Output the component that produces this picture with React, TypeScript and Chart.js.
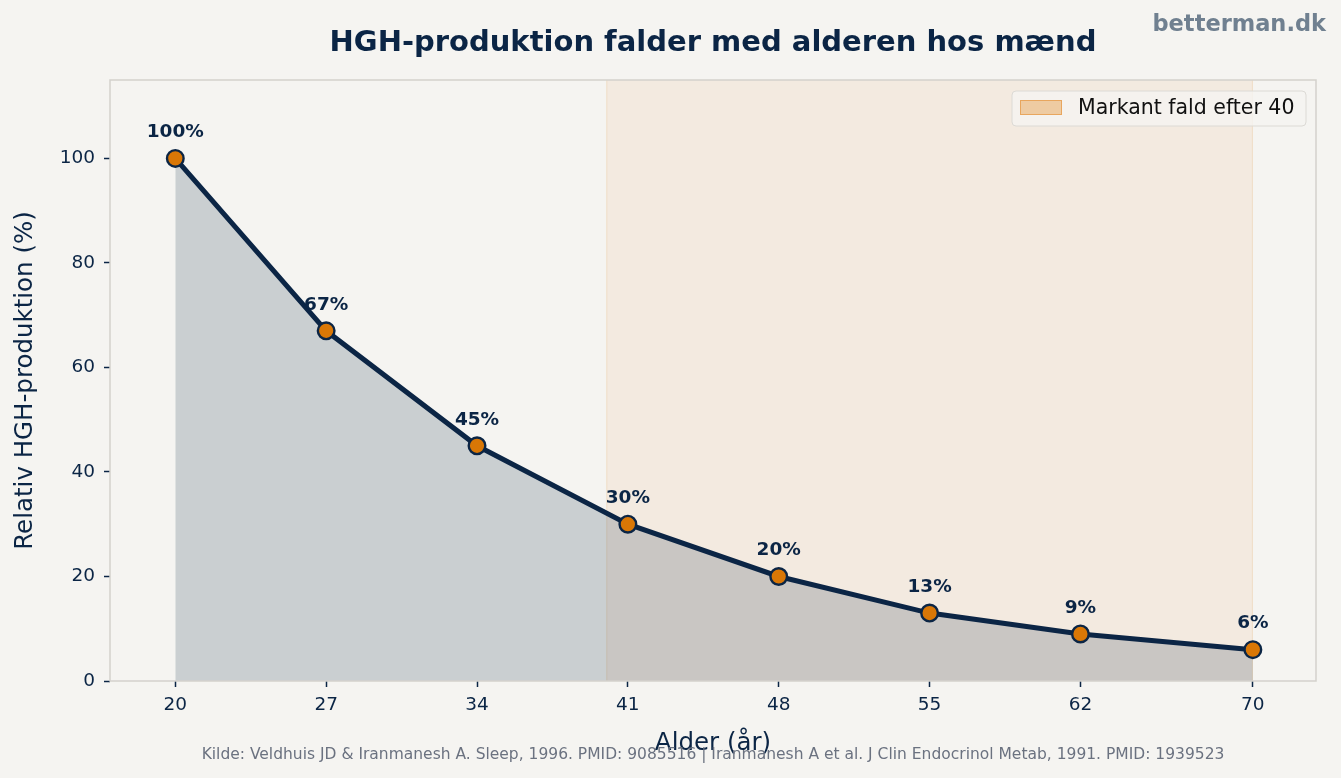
import React, { useEffect, useRef } from "react";
import { Chart, registerables } from "chart.js";

Chart.register(...registerables);

// Age (years) and relative HGH production (%)
const ages: number[] = [20, 27, 34, 41, 48, 55, 62, 70];
const hghPercent: number[] = [100, 67, 45, 30, 20, 13, 9, 6];
const xTicks: number[] = [20, 27, 34, 41, 48, 55, 62, 70];
const yTicks: number[] = [0, 20, 40, 60, 80, 100];
const declineSpan: [number, number] = [40, 70];

const NAVY = "#0b2545";
const ORANGE = "#d97706";
const BG = "#f5f4f1";
const FONT = "'DejaVu Sans', sans-serif";

const TITLE = "HGH-produktion falder med alderen hos mænd";
const BRAND = "betterman.dk";
const X_TITLE = "Alder (år)";
const Y_TITLE = "Relativ HGH-produktion (%)";
const SOURCE =
  "Kilde: Veldhuis JD & Iranmanesh A. Sleep, 1996. PMID: 9085516 | Iranmanesh A et al. J Clin Endocrinol Metab, 1991. PMID: 1939523";
const LEGEND_LABEL = "Markant fald efter 40";

const decorPlugin = {
  id: "decor",
  beforeDraw(chart: any) {
    const { ctx, width, height } = chart;
    ctx.save();
    ctx.fillStyle = BG;
    ctx.fillRect(0, 0, width, height);
    ctx.restore();
  },
  beforeDatasetsDraw(chart: any) {
    const { ctx, chartArea, scales } = chart;
    const x0 = scales.x.getPixelForValue(declineSpan[0]);
    const x1 = scales.x.getPixelForValue(declineSpan[1]);
    ctx.save();
    ctx.fillStyle = "rgba(224,123,10,0.075)";
    ctx.fillRect(x0, chartArea.top, x1 - x0, chartArea.bottom - chartArea.top);
    ctx.strokeStyle = "rgba(224,123,10,0.12)";
    ctx.lineWidth = 1;
    ctx.beginPath();
    ctx.moveTo(x0 + 0.5, chartArea.top);
    ctx.lineTo(x0 + 0.5, chartArea.bottom);
    ctx.moveTo(x1 - 0.5, chartArea.top);
    ctx.lineTo(x1 - 0.5, chartArea.bottom);
    ctx.stroke();
    ctx.restore();
  },
  afterDatasetsDraw(chart: any) {
    const { ctx, chartArea } = chart;
    const meta = chart.getDatasetMeta(0);
    ctx.save();
    // frame
    ctx.strokeStyle = "#d3d1cc";
    ctx.lineWidth = 1.5;
    ctx.strokeRect(
      chartArea.left,
      chartArea.top,
      chartArea.right - chartArea.left,
      chartArea.bottom - chartArea.top
    );
    // value labels
    ctx.fillStyle = NAVY;
    ctx.font = `bold 18.5px ${FONT}`;
    ctx.textAlign = "center";
    ctx.textBaseline = "middle";
    meta.data.forEach((pt: any, i: number) => {
      ctx.fillText(`${hghPercent[i]}%`, pt.x, pt.y - 26);
    });

    // legend
    const lx = 1012, ly = 91, lw = 294, lh = 35;
    ctx.beginPath();
    ctx.roundRect(lx, ly, lw, lh, 4);
    ctx.fillStyle = "rgba(245,244,241,0.8)";
    ctx.fill();
    ctx.strokeStyle = "#dcdad5";
    ctx.lineWidth = 1;
    ctx.stroke();
    ctx.fillStyle = "rgba(224,123,10,0.33)";
    ctx.fillRect(lx + 8, ly + 9, 42, 15);
    ctx.strokeStyle = "rgba(224,123,10,0.45)";
    ctx.lineWidth = 1;
    ctx.strokeRect(lx + 8.5, ly + 9.5, 41, 14);
    ctx.fillStyle = "#111111";
    ctx.font = `20.5px ${FONT}`;
    ctx.textAlign = "left";
    ctx.textBaseline = "middle";
    ctx.fillText(LEGEND_LABEL, lx + 66, ly + lh / 2);

    ctx.restore();
  },
  afterDraw(chart: any) {
    const { ctx, chartArea } = chart;
    const cx = (chartArea.left + chartArea.right) / 2;
    ctx.save();
    ctx.textAlign = "center";
    ctx.textBaseline = "middle";
    ctx.fillStyle = NAVY;
    ctx.font = `bold 29px ${FONT}`;
    ctx.fillText(TITLE, cx, 43);

    ctx.fillStyle = "#708090";
    ctx.font = `bold 22.5px ${FONT}`;
    ctx.textAlign = "right";
    ctx.fillText(BRAND, 1326, 25);

    ctx.textAlign = "center";
    ctx.fillStyle = NAVY;
    ctx.font = `24.5px ${FONT}`;
    ctx.fillText(X_TITLE, cx, 744);

    ctx.save();
    ctx.translate(26, (chartArea.top + chartArea.bottom) / 2);
    ctx.rotate(-Math.PI / 2);
    ctx.fillText(Y_TITLE, 0, 0);
    ctx.restore();

    ctx.fillStyle = "#6b7280";
    ctx.font = `15.5px ${FONT}`;
    ctx.fillText(SOURCE, cx, 755);
    ctx.restore();
  },
};

export default function App() {
  const canvasRef = useRef<HTMLCanvasElement | null>(null);

  useEffect(() => {
    if (!canvasRef.current) return;
    const chart = new Chart(canvasRef.current, {
      type: "line",
      data: {
        datasets: [
          {
            data: ages.map((a, i) => ({ x: a, y: hghPercent[i] })),
            borderColor: NAVY,
            borderWidth: 5,
            backgroundColor: "rgba(11,37,69,0.18)",
            fill: "origin",
            tension: 0,
            pointRadius: 8.3,
            pointHoverRadius: 8.3,
            pointBackgroundColor: ORANGE,
            pointBorderColor: NAVY,
            pointBorderWidth: 2.4,
          },
        ],
      },
      options: {
        responsive: false,
        animation: false,
        layout: { padding: { left: 0, top: 80, right: 25, bottom: 0 } },
        plugins: {
          legend: { display: false },
          title: { display: false },
          tooltip: { enabled: false },
        },
        scales: {
          x: {
            type: "linear",
            min: 16.97,
            max: 72.93,
            afterFit: (s: any) => {
              s.height = 97;
            },
            afterBuildTicks: (s: any) => {
              s.ticks = xTicks.map((v) => ({ value: v }));
            },
            ticks: {
              color: NAVY,
              font: { family: FONT, size: 18.5 },
              padding: 7,
              maxRotation: 0,
              autoSkip: false,
            },
            grid: {
              display: true,
              drawOnChartArea: false,
              drawTicks: true,
              tickLength: 6,
              tickWidth: 1.5,
              tickColor: NAVY,
            },
            border: { display: false },
          },
          y: {
            min: 0,
            max: 115,
            afterFit: (s: any) => {
              s.width = 110;
            },
            afterBuildTicks: (s: any) => {
              s.ticks = yTicks.map((v) => ({ value: v }));
            },
            ticks: {
              color: NAVY,
              font: { family: FONT, size: 18.5 },
              padding: 9,
            },
            grid: {
              display: true,
              drawOnChartArea: false,
              drawTicks: true,
              tickLength: 6,
              tickWidth: 1.5,
              tickColor: NAVY,
            },
            border: { display: false },
          },
        },
      },
      plugins: [decorPlugin],
    });
    return () => chart.destroy();
  }, []);

  return (
    <div style={{ position: "absolute", left: 0, top: 0, width: 1341, height: 778 }}>
      <canvas ref={canvasRef} width={1341} height={778} style={{ display: "block" }} />
    </div>
  );
}
